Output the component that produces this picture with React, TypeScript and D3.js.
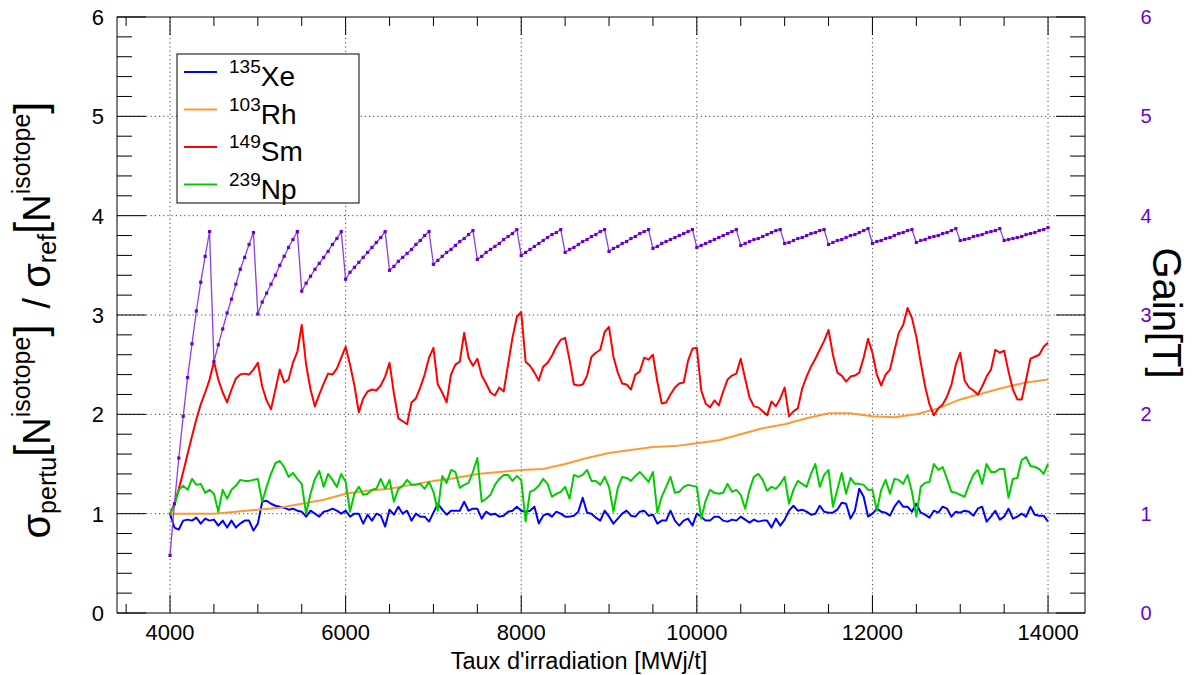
import React from "react";
import * as d3 from "d3";

// ---------- DATA ----------
// burnup grid (MWj/t) for Xe, Sm, Np and Gain series: 4000..14000 every 50
const BURNUP = d3.range(4000, 14001, 50);
// burnup grid for Rh (smooth curve) every 250
const BURNUP_RH = d3.range(4000, 14001, 250);

const XE = [
  1.00,0.86,0.84,0.93,0.94,0.93,0.96,0.90,0.95,0.93,
  0.94,0.88,0.93,0.86,0.93,0.86,0.90,0.93,0.93,0.83,
  0.90,1.12,1.13,1.10,1.08,1.07,1.06,1.04,1.05,1.03,
  1.02,0.97,1.03,1.00,0.97,1.02,1.03,1.05,1.03,1.00,
  1.03,0.97,1.00,1.00,0.90,0.99,0.93,1.00,0.98,0.87,
  1.04,0.99,1.07,1.00,1.03,0.93,1.00,0.97,0.97,0.92,
  1.01,1.10,1.04,0.99,1.03,1.03,1.03,1.12,1.03,1.05,
  1.05,0.95,1.02,0.99,1.00,0.97,0.98,1.02,1.03,1.07,
  1.03,1.02,1.03,1.07,0.90,0.98,1.00,0.97,1.02,1.00,
  0.97,0.97,0.98,1.02,1.16,1.01,1.00,0.96,0.93,1.03,
  0.97,0.90,0.95,1.00,1.03,0.98,0.97,1.02,1.03,0.98,
  0.99,0.90,0.93,0.93,1.03,0.93,0.88,0.93,0.95,0.88,
  1.00,0.97,0.93,0.93,0.97,0.97,0.93,0.92,0.94,0.93,
  0.97,0.94,0.91,0.94,0.92,0.93,0.93,0.86,0.95,0.88,
  0.94,1.03,1.08,1.03,1.04,1.02,0.99,1.00,1.08,1.02,
  1.01,1.01,1.04,1.11,1.10,0.95,1.03,1.25,1.17,0.97,
  1.00,1.05,1.02,1.01,0.98,1.07,1.13,1.07,1.07,1.02,
  1.10,1.01,0.99,0.96,1.03,1.01,1.07,1.05,0.97,1.02,
  1.01,1.03,1.02,0.98,1.05,1.07,0.92,0.97,1.03,0.94,
  0.97,1.05,0.95,0.97,1.00,0.97,1.07,0.99,0.98,0.98,
  0.92,
];

const RH = [
  1.00,1.00,1.00,1.02,1.04,1.06,1.10,1.14,1.20,1.23,
  1.25,1.29,1.33,1.36,1.40,1.42,1.44,1.45,1.50,1.56,
  1.61,1.64,1.67,1.68,1.71,1.74,1.80,1.86,1.90,1.96,
  2.01,2.01,1.98,1.97,2.00,2.06,2.15,2.21,2.27,2.32,
  2.35,
];

const SM = [
  1.00,1.10,1.25,1.42,1.60,1.78,1.95,2.10,2.22,2.35,
  2.53,2.35,2.22,2.12,2.25,2.36,2.40,2.41,2.40,2.45,
  2.52,2.28,2.14,2.05,2.25,2.45,2.32,2.35,2.52,2.63,
  2.90,2.50,2.25,2.08,2.20,2.31,2.41,2.40,2.46,2.57,
  2.68,2.50,2.29,2.02,2.16,2.23,2.25,2.24,2.29,2.38,
  2.52,2.21,1.96,1.93,1.90,2.12,2.16,2.27,2.40,2.57,
  2.67,2.30,2.22,2.12,2.40,2.50,2.53,2.82,2.57,2.49,
  2.56,2.39,2.31,2.22,2.19,2.27,2.23,2.50,2.77,2.98,
  3.03,2.53,2.49,2.42,2.34,2.48,2.52,2.59,2.68,2.75,
  2.77,2.55,2.30,2.29,2.30,2.39,2.58,2.62,2.65,2.83,
  2.88,2.58,2.42,2.31,2.30,2.25,2.40,2.43,2.57,2.55,
  2.60,2.33,2.11,2.12,2.20,2.27,2.31,2.32,2.54,2.66,
  2.67,2.24,2.11,2.07,2.14,2.09,2.23,2.35,2.39,2.41,
  2.56,2.36,2.17,2.08,2.07,2.03,1.99,2.13,2.08,2.16,
  2.27,1.98,2.03,2.06,2.26,2.38,2.48,2.56,2.65,2.74,
  2.85,2.60,2.42,2.39,2.33,2.38,2.39,2.42,2.57,2.76,
  2.62,2.40,2.29,2.40,2.45,2.64,2.82,2.90,3.07,2.97,
  2.78,2.52,2.28,2.10,1.99,2.06,2.10,2.18,2.30,2.50,
  2.62,2.34,2.27,2.24,2.20,2.28,2.38,2.45,2.65,2.62,
  2.64,2.43,2.25,2.15,2.15,2.35,2.56,2.58,2.60,2.68,
  2.72,
];

const NP = [
  1.00,1.08,1.24,1.28,1.24,1.35,1.29,1.30,1.21,1.24,
  1.20,1.02,1.24,1.15,1.24,1.28,1.34,1.33,1.33,1.34,
  1.35,1.12,1.27,1.40,1.51,1.53,1.47,1.37,1.41,1.35,
  1.30,1.00,1.20,1.35,1.43,1.27,1.40,1.34,1.27,1.40,
  1.32,1.02,1.20,1.27,1.19,1.20,1.24,1.25,1.35,1.25,
  1.34,1.12,1.25,1.28,1.34,1.29,1.29,1.30,1.25,1.32,
  1.22,1.03,1.38,1.31,1.44,1.42,1.26,1.29,1.31,1.42,
  1.56,1.12,1.15,1.19,1.29,1.35,1.39,1.39,1.33,1.38,
  1.34,0.92,1.22,1.24,1.28,1.35,1.30,1.17,1.20,1.22,
  1.27,1.15,1.39,1.37,1.39,1.44,1.33,1.33,1.29,1.37,
  1.27,1.02,1.26,1.37,1.36,1.33,1.38,1.42,1.37,1.32,
  1.42,1.01,1.17,1.27,1.37,1.21,1.22,1.27,1.29,1.28,
  1.27,0.95,1.13,1.24,1.21,1.20,1.21,1.30,1.22,1.24,
  1.19,1.05,1.24,1.37,1.40,1.34,1.23,1.27,1.25,1.30,
  1.37,1.10,1.24,1.33,1.30,1.27,1.40,1.50,1.27,1.39,
  1.44,1.07,1.24,1.41,1.20,1.36,1.30,1.30,1.29,1.24,
  1.24,1.03,1.24,1.34,1.20,1.35,1.34,1.30,1.39,1.22,
  0.97,1.27,1.31,1.32,1.50,1.44,1.47,1.35,1.22,1.21,
  1.19,1.17,1.29,1.39,1.44,1.30,1.50,1.42,1.42,1.45,
  1.45,1.16,1.35,1.36,1.54,1.57,1.48,1.47,1.45,1.40,
  1.50,
];

const GAIN = [
  0.58,1.10,1.56,1.98,2.37,2.71,3.04,3.33,3.59,3.84,
  2.53,2.70,2.86,3.02,3.16,3.31,3.46,3.58,3.71,3.83,
  3.01,3.13,3.22,3.31,3.40,3.50,3.59,3.68,3.76,3.84,
  3.24,3.32,3.39,3.46,3.52,3.58,3.64,3.71,3.77,3.84,
  3.36,3.43,3.48,3.53,3.58,3.63,3.68,3.73,3.78,3.84,
  3.45,3.49,3.54,3.58,3.62,3.66,3.71,3.75,3.80,3.84,
  3.51,3.55,3.59,3.63,3.66,3.70,3.74,3.77,3.81,3.85,
  3.56,3.59,3.63,3.66,3.69,3.72,3.76,3.79,3.82,3.86,
  3.60,3.63,3.66,3.69,3.72,3.75,3.78,3.81,3.83,3.86,
  3.63,3.66,3.68,3.71,3.74,3.76,3.79,3.81,3.84,3.86,
  3.64,3.67,3.69,3.72,3.74,3.77,3.79,3.82,3.84,3.86,
  3.67,3.69,3.72,3.74,3.76,3.78,3.80,3.82,3.84,3.86,
  3.68,3.70,3.72,3.74,3.76,3.78,3.80,3.82,3.84,3.86,
  3.70,3.72,3.74,3.76,3.77,3.79,3.81,3.83,3.85,3.86,
  3.72,3.73,3.75,3.77,3.78,3.80,3.82,3.83,3.85,3.86,
  3.71,3.73,3.75,3.76,3.78,3.80,3.81,3.83,3.85,3.87,
  3.72,3.74,3.75,3.77,3.78,3.80,3.82,3.83,3.85,3.86,
  3.73,3.75,3.76,3.78,3.79,3.80,3.82,3.83,3.85,3.87,
  3.75,3.76,3.77,3.79,3.80,3.81,3.83,3.84,3.85,3.87,
  3.75,3.76,3.77,3.78,3.79,3.81,3.82,3.83,3.85,3.86,
  3.88,
];

const X_TICK_LABELS = ["4000", "6000", "8000", "10000", "12000", "14000"];
const Y_TICK_LABELS = ["0", "1", "2", "3", "4", "5", "6"];
const LEGEND = [
  { mass: "135", sym: "Xe", color: "#0000ff" },
  { mass: "103", sym: "Rh", color: "#ff9933" },
  { mass: "149", sym: "Sm", color: "#ff0000" },
  { mass: "239", sym: "Np", color: "#00cc00" },
];

// ---------- LAYOUT ----------
const W = 1195, H = 675;
const L = 117, R = 1085, T = 17, B = 613;
const FONT = "'Liberation Sans', Arial, Helvetica, sans-serif";
const PURPLE = "#6a00d0";

export default function App() {
  const x = d3.scaleLinear().domain([3396, 14421]).range([L, R]);
  const y = d3.scaleLinear().domain([0, 6]).range([B, T]);

  const line = d3.line<[number, number]>().x(d => x(d[0])).y(d => y(d[1]));
  const pts = (xs: number[], vs: number[]) => vs.map((v, i) => [xs[i], v] as [number, number]);

  const xMajor = X_TICK_LABELS.map(Number);
  const xMinor = d3.range(3500, 14421, 500).filter(v => !xMajor.includes(v));
  const yMajor = Y_TICK_LABELS.map(Number);
  const yMinor = d3.range(0, 6.001, 0.2).filter(v => Math.abs(v - Math.round(v)) > 1e-6);

  const gridStyle = { stroke: "#444", strokeWidth: 1, strokeDasharray: "1.2,3" };

  return (
    <svg width={W} height={H} style={{ position: "absolute", left: 0, top: 0, background: "#fff" }} fontFamily={FONT}>
      <rect x={0} y={0} width={W} height={H} fill="#fff" />
      {/* grid */}
      {xMajor.map(v => <line key={"gx" + v} x1={x(v)} x2={x(v)} y1={T} y2={B} style={gridStyle} />)}
      {yMajor.filter(v => v > 0 && v < 6).map(v => <line key={"gy" + v} x1={L} x2={R} y1={y(v)} y2={y(v)} style={gridStyle} />)}

      {/* ticks */}
      <g stroke="#000" strokeWidth={1}>
        {xMajor.map(v => <g key={"tx" + v}>
          <line x1={x(v)} x2={x(v)} y1={B} y2={B - 18} />
          <line x1={x(v)} x2={x(v)} y1={T} y2={T + 18} />
        </g>)}
        {xMinor.map(v => <g key={"tmx" + v}>
          <line x1={x(v)} x2={x(v)} y1={B} y2={B - 9} />
          <line x1={x(v)} x2={x(v)} y1={T} y2={T + 9} />
        </g>)}
        {yMajor.map(v => <g key={"ty" + v}>
          <line x1={L} x2={L + 29} y1={y(v)} y2={y(v)} />
          <line x1={R} x2={R - 29} y1={y(v)} y2={y(v)} />
        </g>)}
        {yMinor.map(v => <g key={"tmy" + v}>
          <line x1={L} x2={L + 15} y1={y(v)} y2={y(v)} />
          <line x1={R} x2={R - 15} y1={y(v)} y2={y(v)} />
        </g>)}
      </g>

      {/* series */}
      <path d={line(pts(BURNUP, XE)) || ""} fill="none" stroke="#0000ff" strokeWidth={2} strokeLinejoin="round" />
      <path d={line(pts(BURNUP_RH, RH)) || ""} fill="none" stroke="#ff9933" strokeWidth={2} strokeLinejoin="round" />
      <path d={line(pts(BURNUP, SM)) || ""} fill="none" stroke="#ff0000" strokeWidth={2} strokeLinejoin="round" />
      <path d={line(pts(BURNUP, NP)) || ""} fill="none" stroke="#00cc00" strokeWidth={2} strokeLinejoin="round" />
      <path d={line(pts(BURNUP, GAIN)) || ""} fill="none" stroke="#8a3ee6" strokeWidth={1.3} />
      {GAIN.map((v, i) => <rect key={"gm" + i} x={x(BURNUP[i]) - 1.6} y={y(v) - 1.6} width={3.2} height={3.2} fill={PURPLE} />)}

      {/* frame */}
      <rect x={L} y={T} width={R - L} height={B - T} fill="none" stroke="#000" strokeWidth={1} />

      {/* x labels */}
      {X_TICK_LABELS.map(s => <text key={"xl" + s} x={x(+s)} y={640} fontSize={22} textAnchor="middle">{s}</text>)}
      <text x={579} y={669} fontSize={23.5} textAnchor="middle">Taux d'irradiation [MWj/t]</text>

      {/* left y labels */}
      {Y_TICK_LABELS.map(s => <text key={"yl" + s} x={104} y={y(+s) + 8} fontSize={22} textAnchor="end">{s}</text>)}
      {/* right y labels */}
      {Y_TICK_LABELS.map(s => <text key={"yr" + s} x={1146} y={y(+s) + 7} fontSize={20} textAnchor="middle" fill={PURPLE}>{s}</text>)}

      {/* left title */}
      <text transform="translate(50,320) rotate(-90)" textAnchor="middle" fontSize={38}>
        <tspan fontSize={40}>σ</tspan>
        <tspan fontSize={25} dy={6}>pertu</tspan>
        <tspan fontSize={44} dy={-11} fontWeight={300}>[</tspan>
        <tspan fontSize={38} dy={5}>N</tspan>
        <tspan fontSize={25} dy={-20}>isotope</tspan>
        <tspan fontSize={44} dy={15} fontWeight={300}>]</tspan>
        <tspan fontSize={38} dy={5} dx={16}>/</tspan>
        <tspan fontSize={40} dx={10}>σ</tspan>
        <tspan fontSize={25} dy={6}>ref</tspan>
        <tspan fontSize={44} dy={-11} fontWeight={300}>[</tspan>
        <tspan fontSize={38} dy={5}>N</tspan>
        <tspan fontSize={25} dy={-20}>isotope</tspan>
        <tspan fontSize={44} dy={15} fontWeight={300}>]</tspan>
      </text>

      {/* right title */}
      <text transform="translate(1153,313) rotate(90)" textAnchor="middle" fontSize={40}>Gain[T]</text>

      {/* legend */}
      <rect x={177} y={54} width={182} height={149} fill="#fff" stroke="#000" strokeWidth={1} />
      {LEGEND.map((e, i) => {
        const ly = 72 + i * 37.5;
        return (
          <g key={e.sym}>
            <line x1={184} x2={217} y1={ly} y2={ly} stroke={e.color} strokeWidth={2} />
            <text x={229} y={ly + 14} fontSize={28}>
              <tspan fontSize={19} dy={-13}>{e.mass}</tspan>
              <tspan dy={13}>{e.sym}</tspan>
            </text>
          </g>
        );
      })}
    </svg>
  );
}
